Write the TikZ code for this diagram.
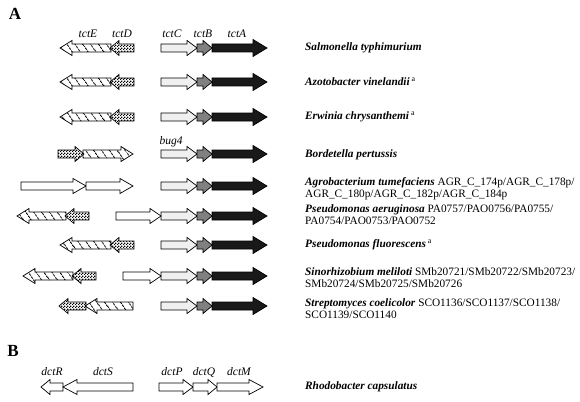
\documentclass[tikz,border=0pt]{standalone}
\usepackage{fontspec}
\setmainfont{Liberation Serif}
\usetikzlibrary{patterns.meta}

% fine checkerboard for tctD
\pgfdeclarepattern{name=finechecker, type=uncolored,
  bottom left={\pgfpointorigin}, top right={\pgfqpoint{3pt}{3pt}},
  tile size={\pgfqpoint{3pt}{3pt}},
  code={\pgfpathrectangle{\pgfpointorigin}{\pgfqpoint{1.5pt}{1.5pt}}%
    \pgfpathrectangle{\pgfqpoint{1.5pt}{1.5pt}}{\pgfqpoint{1.5pt}{1.5pt}}%
    \pgfusepath{fill}}}

% half heights of gene body and head
\newcommand{\bodyh}{4}
\newcommand{\headh}{7.5}
% \gene{style}{tail x}{tip x}{y}{head length}
\newcommand{\gene}[5]{%
  \pgfmathsetmacro{\gdir}{sign(#3-#2)}%
  \draw[#1] (#2,{#4-\bodyh}) -- ({#3-\gdir*#5},{#4-\bodyh}) -- ({#3-\gdir*#5},{#4-\headh})
    -- (#3,#4) -- ({#3-\gdir*#5},{#4+\headh}) -- ({#3-\gdir*#5},{#4+\bodyh})
    -- (#2,{#4+\bodyh}) -- cycle;}

\tikzset{
  hatched/.style={draw, line width=0.7pt, pattern={Lines[angle=-55,distance=6.5pt,line width=0.9pt]}},
  checker/.style={draw, line width=0.7pt, pattern=finechecker},
  whitegene/.style={draw, line width=0.7pt, fill=white},
  tctc/.style={draw, line width=0.7pt, fill=gray!12},
  tctb/.style={draw, line width=0.7pt, fill=black!50},
  tcta/.style={draw, line width=0.7pt, fill=black!90},
  species/.style={anchor=west, inner sep=0pt, align=left, font=\fontsize{11.3}{12}\selectfont},
  genelbl/.style={inner sep=0pt, font=\fontsize{11.5}{12}\selectfont\itshape},
  panel/.style={inner sep=0pt, font=\fontsize{17}{18}\selectfont\bfseries}
}

\begin{document}
\begin{tikzpicture}[x=1pt, y=-1pt]
\useasboundingbox (0,0) rectangle (580,401);

\node[panel] (pA) at (15,14) {A};
\node[panel] (pB) at (13,351) {B};

% gene names
\node[genelbl] (nE) at (88,34) {tctE};
\node[genelbl] (nD) at (122,34) {tctD};
\node[genelbl] (nC) at (172,34) {tctC};
\node[genelbl] (nB) at (203,34) {tctB};
\node[genelbl] (nA) at (237,34) {tctA};
\node[genelbl] (nbug) at (171,142) {bug4};

% tctCBA, same in every row of A
\foreach \y in {48,82,117,154,186,216,245,276,306} {
  \gene{tctc}{161}{197}{\y}{10}
  \gene{tctb}{197}{212}{\y}{9}
  {\renewcommand{\headh}{8.5}\gene{tcta}{212}{267}{\y}{14}}
}

% tctDE
\foreach \y in {48,82,117,245} {
  \gene{hatched}{111}{60}{\y}{12}
  \gene{checker}{134}{110}{\y}{9}
}
% Bordetella
\gene{checker}{58}{84}{154}{9}
\gene{hatched}{83}{133}{154}{12}
% Agrobacterium
\gene{whitegene}{21}{86}{186}{13}
\gene{whitegene}{86}{133}{186}{13}
% P. aeruginosa
\gene{hatched}{66}{17}{216}{12}
\gene{checker}{89}{65}{216}{9}
\gene{whitegene}{116}{161}{216}{11}
% Sinorhizobium
\gene{hatched}{73}{23}{276}{12}
\gene{checker}{96}{72}{276}{9}
\gene{whitegene}{123}{161}{276}{11}
% Streptomyces
\gene{checker}{86}{59}{306}{9}
\gene{hatched}{133}{85}{306}{12}

% species
\node[species] (s1) at (305,48) {\textbf{\textit{Salmonella typhimurium}}};
\node[species] (s2) at (305,82) {\textbf{\textit{Azotobacter vinelandii}}\,\textsuperscript{a}};
\node[species] (s3) at (305,117) {\textbf{\textit{Erwinia chrysanthemi}}\,\textsuperscript{a}};
\node[species] (s4) at (305,155) {\textbf{\textit{Bordetella pertussis}}};
\node[species] (s5) at (305,189) {\textbf{\textit{Agrobacterium tumefaciens}} AGR\_C\_174p/AGR\_C\_178p/\\AGR\_C\_180p/AGR\_C\_182p/AGR\_C\_184p};
\node[species] (s6) at (305,215) {\textbf{\textit{Pseudomonas aeruginosa}} PA0757/PAO0756/PA0755/\\PA0754/PAO0753/PAO0752};
\node[species] (s7) at (305,245) {\textbf{\textit{Pseudomonas fluorescens}}\,\textsuperscript{a}};
\node[species] (s8) at (305,278) {\textbf{\textit{Sinorhizobium meliloti}} SMb20721/SMb20722/SMb20723/\\SMb20724/SMb20725/SMb20726};
\node[species] (s9) at (305,309) {\textbf{\textit{Streptomyces coelicolor}} SCO1136/SCO1137/SCO1138/\\SCO1139/SCO1140};

% B: dct genes
\node[genelbl] (nR) at (52,372) {dctR};
\node[genelbl] (nS) at (103,372) {dctS};
\node[genelbl] (nP) at (172,372) {dctP};
\node[genelbl] (nQ) at (204,372) {dctQ};
\node[genelbl] (nM) at (239,372) {dctM};
\gene{whitegene}{63}{41}{387}{9}
\gene{whitegene}{133}{63}{387}{14}
\gene{whitegene}{159}{193}{387}{10}
\gene{whitegene}{193}{217}{387}{9}
\gene{whitegene}{217}{263}{387}{14}
\node[species] (s10) at (305,387) {\textbf{\textit{Rhodobacter capsulatus}}};
\end{tikzpicture}
\end{document}
